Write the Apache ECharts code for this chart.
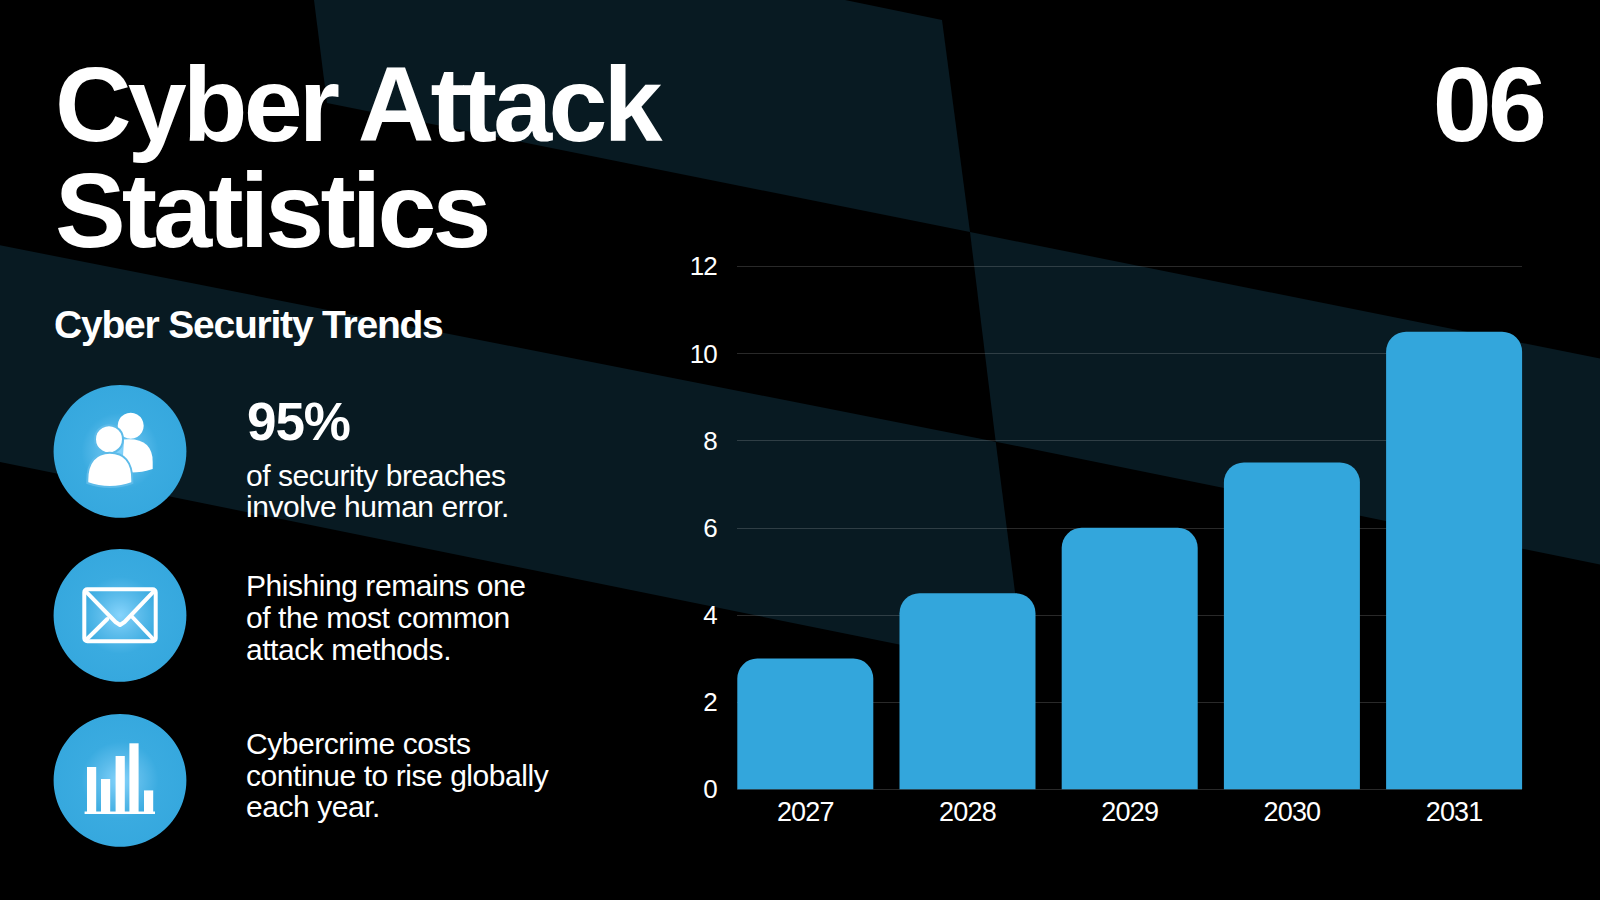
<!DOCTYPE html>
<html><head><meta charset="utf-8">
<style>
html,body{margin:0;padding:0;background:#000;}
#c{width:1600px;height:900px;}
svg text{letter-spacing:-0.03em;}
svg text[style*="106px"]{letter-spacing:-0.0365em;}
svg text[style*="39px"]{letter-spacing:-0.031em;}
svg text[style*="30px"]{letter-spacing:-0.015em;}
svg text[style*="53px"]{letter-spacing:-0.02em;}
</style>
<script src="https://cdn.jsdelivr.net/npm/echarts@6/dist/echarts.min.js"></script>
</head><body><div id="c"></div>
<script>
const years = ['2027','2028','2029','2030','2031'];
const values = [3, 4.5, 6, 7.5, 10.5];
const yMin = 0, yMax = 12, yStep = 2;
const titleLines = ['Cyber Attack','Statistics'];
const pageNumber = '06';
const subtitle = 'Cyber Security Trends';
const statValue = '95%';
const statLines = ['of security breaches','involve human error.'];
const phishingLines = ['Phishing remains one','of the most common','attack methods.'];
const costLines = ['Cybercrime costs','continue to rise globally','each year.'];

const FONT='"Liberation Sans", Arial, sans-serif';
const BAR='#33A6DC', DARK='#081A22';
function txt(s,x,base,size,bold,align){
  return {type:'text',z:20,style:{text:s,x:x,y:base-0.3465*size,fill:'#fff',
    font:(bold?'bold ':'')+size+'px '+FONT,align:align||'left',verticalAlign:'middle'}};
}
function poly(pts){return {type:'polygon',z:-5,shape:{points:pts},style:{fill:DARK}};}
function disc(cy){return {type:'circle',z:10,shape:{cx:120,cy:cy,r:66.4},
  style:{fill:{type:'radial',x:0.5,y:0.5,r:0.5,colorStops:[{offset:0,color:'#86D4FC'},{offset:0.3,color:'#5CBCEB'},{offset:0.58,color:'#3AABE0'},{offset:1,color:'#36A8DE'}]}}};}
const W={fill:'#fff'};
function rect(x,y,w,h){return {type:'rect',z:12,shape:{x,y,width:w,height:h},style:W};}
function line(pts){return {type:'polyline',z:12,shape:{points:pts},style:{fill:null,stroke:'#fff',lineWidth:4,lineJoin:'round',lineCap:'round'}};}
function glyph(name,d,z,style){
  echarts.graphic.registerShape(name,echarts.graphic.extendPath(d));
  return {type:name,z:z,style:style};
}
const OUT={stroke:'#5DBBE9',lineWidth:2};

const graphics=[
  poly([[314,0],[845,0],[942,20],[970,232],[327,103]]),
  poly([[970,232],[1600,358.6],[1600,564.5],[995.7,441.7]]),
  poly([[0,245.3],[995.7,441.7],[1025,670],[0,462]]),
  disc(451.3),disc(615.3),disc(780.3),
  // people icon
  {type:'circle',z:12,shape:{cx:130.7,cy:425.7,r:13},style:W},
  glyph('personBack','M124 439.5 Q152.7 437 152.7 462 L152.7 469 Q138 474 122 472 Z',12,W),
  {type:'circle',z:13,shape:{cx:109,cy:439.3,r:14},style:Object.assign({},W,OUT)},
  glyph('personFront','M87.3 480 C87.3 462 96 452.7 109.8 452.7 C124 452.7 132.3 462 132.3 480 L132.3 483 Q110 491 87.3 483 Z',13,Object.assign({},W,OUT)),
  // envelope icon
  {type:'rect',z:12,shape:{x:84.3,y:589.3,width:71.4,height:52,r:3},style:{fill:null,stroke:'#fff',lineWidth:4}},
  line([[86,591.7],[115.5,622],[120,625],[124.5,622],[153.5,591.7]]),
  line([[86,640],[107.3,619]]),
  line([[154,640],[132.3,617]]),
  // bars icon
  rect(84.6,811.6,70.4,2.4),
  rect(87,767,9.2,45),rect(101,779,9.2,33),rect(115.6,756,9.2,56),rect(129.4,743.3,9.2,69),rect(144,790.4,9.2,22),
  // text
  txt(titleLines[0],55,141,106,true),
  txt(titleLines[1],55,247,106,true),
  txt(pageNumber,1543,141,106,true,'right'),
  txt(subtitle,54,338,39,true),
  txt(statValue,247,440,53,true),
  txt(statLines[0],246,485.7,30),txt(statLines[1],246,517.2,30),
  txt(phishingLines[0],246,596.2,30),txt(phishingLines[1],246,628,30),txt(phishingLines[2],246,659.6,30),
  txt(costLines[0],246,754.3,30),txt(costLines[1],246,786,30),txt(costLines[2],246,817.3,30)
];

const chart=echarts.init(document.getElementById('c'),null,{renderer:'svg',width:1600,height:900});
const gridTop=266.4, gridBottom=900-789.3;
chart.setOption({
  animation:false,
  backgroundColor:'#000',
  graphic:{elements:graphics},
  grid:[
    {left:737,width:785,top:gridTop,bottom:gridBottom,containLabel:false},
    {left:724.2,width:811,top:gridTop,bottom:gridBottom,containLabel:false}
  ],
  xAxis:[
    {gridIndex:0,type:'category',data:years,show:false},
    {gridIndex:1,type:'category',data:years,
      axisLine:{show:false},axisTick:{show:false},
      axisLabel:{color:'#fff',fontSize:27,fontFamily:FONT,margin:9}}
  ],
  yAxis:[
    {gridIndex:0,type:'value',min:yMin,max:yMax,interval:yStep,
      axisLine:{show:false},axisTick:{show:false},
      splitLine:{show:true,lineStyle:{color:'rgba(255,255,255,0.16)',width:1}},
      axisLabel:{color:'#fff',fontSize:26,fontFamily:FONT,margin:20}},
    {gridIndex:1,type:'value',min:yMin,max:yMax,interval:yStep,show:false,splitLine:{show:false}}
  ],
  series:[{type:'bar',xAxisIndex:1,yAxisIndex:1,data:values,barWidth:136,
    itemStyle:{color:BAR,borderRadius:[20,20,0,0]},silent:true}]
});
</script></body></html>
